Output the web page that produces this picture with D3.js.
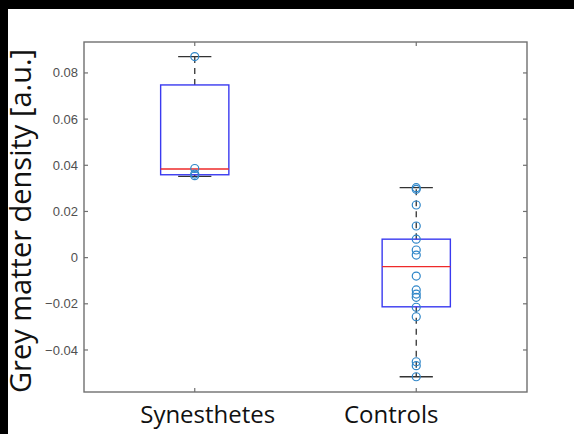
<!DOCTYPE html>
<html>
<head>
<meta charset="utf-8">
<script src="https://cdn.jsdelivr.net/npm/d3@7"></script>
<style>
  body { margin: 0; background: #fff; }
  svg { display: block; }
</style>
</head>
<body>
<svg id="chart" width="574" height="434"></svg>
<script>
// groups and box stats
var groups = ["Synesthetes", "Controls"];
var q1 = [0.0359, -0.0213];
var median = [0.0384, -0.0039];
var q3 = [0.0748, 0.0080];
var whiskerLow = [0.0352, -0.0516];
var whiskerHigh = [0.0871, 0.0303];

// individual subjects
var synPoints = [0.0871, 0.0386, 0.0362, 0.0355];
var ctrlPoints = [0.0303, 0.0296, 0.0228, 0.0137, 0.0080, 0.0033, 0.0011, -0.0080,
  -0.0140, -0.0158, -0.0172, -0.0215, -0.0256, -0.0451, -0.0468, -0.0516];
var points = [synPoints, ctrlPoints];

var yTicks = [-0.04, -0.02, 0, 0.02, 0.04, 0.06, 0.08];
var labelShift = [13, -25]; // category labels are not centred on their ticks

var svg = d3.select("#chart");
var W = 574, H = 434;
var margin = { left: 84, top: 42, right: 47, bottom: 42 };
var x0 = margin.left, x1 = W - margin.right, y0 = margin.top, y1 = H - margin.bottom;

// black border strips from the screenshot
svg.append("rect").attr("x", 0).attr("y", 0).attr("width", W).attr("height", 9).attr("fill", "#000");
svg.append("rect").attr("x", 0).attr("y", 0).attr("width", 8).attr("height", H).attr("fill", "#000");

var x = d3.scaleLinear().domain([0.5, 2.5]).range([x0, x1]);
var y = d3.scaleLinear().domain([-0.0582, 0.0934]).range([y1, y0]);

var AXIS = "#707070";

// ticks (inside, on all four sides)
var tickLen = 4;
yTicks.forEach(function (t) {
  svg.append("line").attr("x1", x0).attr("x2", x0 + tickLen).attr("y1", y(t)).attr("y2", y(t))
    .attr("stroke", AXIS).attr("stroke-width", 1.2);
  svg.append("line").attr("x1", x1).attr("x2", x1 - tickLen).attr("y1", y(t)).attr("y2", y(t))
    .attr("stroke", AXIS).attr("stroke-width", 1.2);
});
groups.forEach(function (g, i) {
  svg.append("line").attr("x1", x(i + 1)).attr("x2", x(i + 1)).attr("y1", y1).attr("y2", y1 - tickLen)
    .attr("stroke", AXIS).attr("stroke-width", 1.2);
  svg.append("line").attr("x1", x(i + 1)).attr("x2", x(i + 1)).attr("y1", y0).attr("y2", y0 + tickLen)
    .attr("stroke", AXIS).attr("stroke-width", 1.2);
});

svg.append("g").selectAll("text").data(yTicks).enter().append("text")
  .attr("x", x0 - 6)
  .attr("y", function (d) { return y(d); })
  .attr("dy", "0.35em")
  .attr("text-anchor", "end")
  .attr("font-family", "Liberation Sans, Arial, sans-serif")
  .attr("font-size", 13)
  .attr("fill", "#505050")
  .text(function (d) { return d === 0 ? "0" : d3.format(".2f")(d); });

// boxes
var boxHalf = 0.154, capHalf = 0.075;
groups.forEach(function (g, i) {
  var cx = x(i + 1);
  // whiskers
  svg.append("line").attr("x1", cx).attr("x2", cx).attr("y1", y(q3[i])).attr("y2", y(whiskerHigh[i]))
    .attr("stroke", "#333").attr("stroke-width", 1.3).attr("stroke-dasharray", "6,5");
  svg.append("line").attr("x1", cx).attr("x2", cx).attr("y1", y(q1[i])).attr("y2", y(whiskerLow[i]))
    .attr("stroke", "#333").attr("stroke-width", 1.3).attr("stroke-dasharray", "6,5");
  [whiskerLow[i], whiskerHigh[i]].forEach(function (v) {
    svg.append("line").attr("x1", x(i + 1 - capHalf)).attr("x2", x(i + 1 + capHalf))
      .attr("y1", y(v)).attr("y2", y(v)).attr("stroke", "#333").attr("stroke-width", 1.3);
  });
  svg.append("rect")
    .attr("x", x(i + 1 - boxHalf)).attr("y", y(q3[i]))
    .attr("width", x(i + 1 + boxHalf) - x(i + 1 - boxHalf))
    .attr("height", y(q1[i]) - y(q3[i]))
    .attr("fill", "none").attr("stroke", "#3a3af0").attr("stroke-width", 1.4);
  svg.append("line").attr("x1", x(i + 1 - boxHalf)).attr("x2", x(i + 1 + boxHalf))
    .attr("y1", y(median[i])).attr("y2", y(median[i]))
    .attr("stroke", "#ee2a2a").attr("stroke-width", 1.3);
});

// data points
points.forEach(function (pts, i) {
  svg.append("g").selectAll("circle").data(pts).enter().append("circle")
    .attr("cx", x(i + 1))
    .attr("cy", function (d) { return y(d); })
    .attr("r", 4)
    .attr("fill", "none")
    .attr("stroke", "#2f86c8")
    .attr("stroke-width", 1.2);
});

// frame
svg.append("rect").attr("x", x0).attr("y", y0).attr("width", x1 - x0).attr("height", y1 - y0)
  .attr("fill", "none").attr("stroke", AXIS).attr("stroke-width", 1.4);

// category labels
svg.append("g").selectAll("text").data(groups).enter().append("text")
  .attr("x", function (d, i) { return x(i + 1) + labelShift[i]; })
  .attr("y", 423)
  .attr("text-anchor", "middle")
  .attr("font-family", "Open Sans, sans-serif")
  .attr("font-size", 24)
  .attr("fill", "#111")
  .text(function (d) { return d; });

svg.append("text")
  .attr("transform", "translate(31,221) rotate(-90)")
  .attr("text-anchor", "middle")
  .attr("font-family", "Open Sans, sans-serif")
  .attr("font-size", 29)
  .attr("fill", "#111")
  .text("Grey matter density [a.u.]");
</script>
</body>
</html>
